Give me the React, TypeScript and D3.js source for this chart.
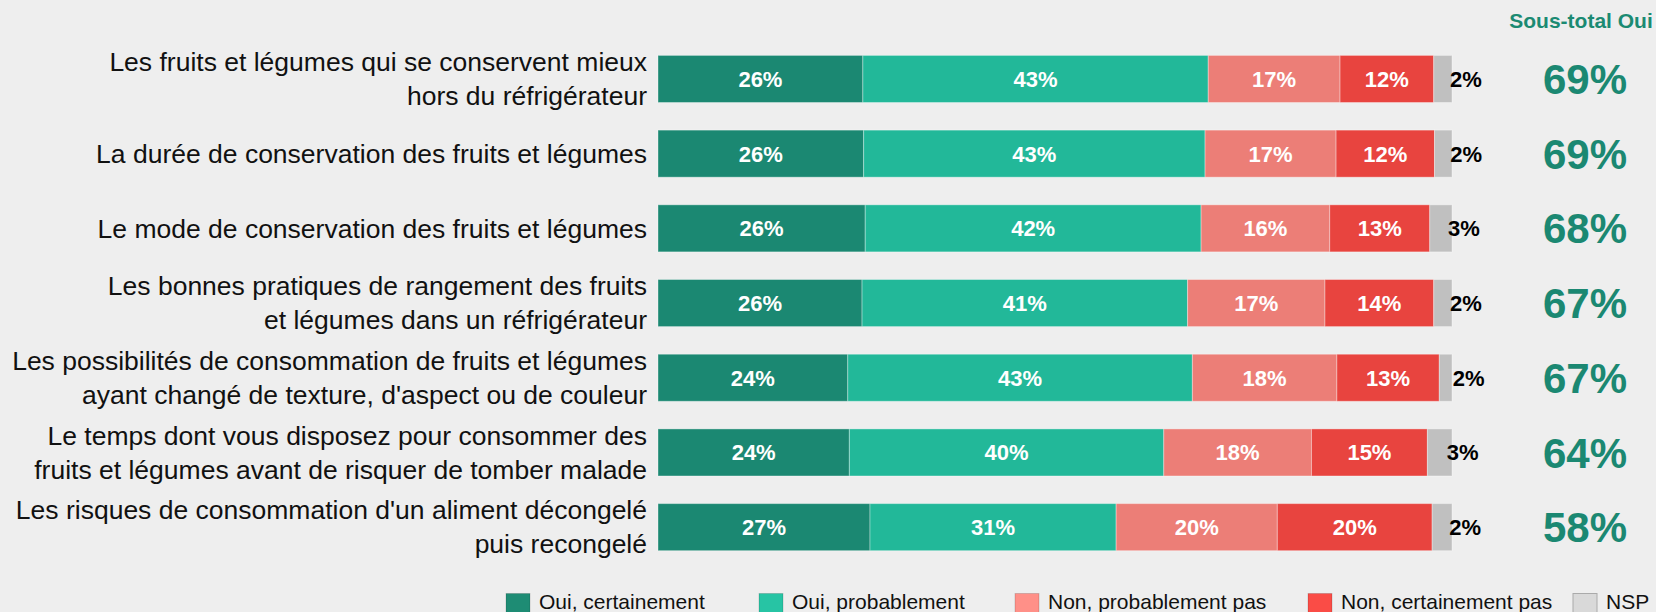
import { scaleBand, scaleLinear } from "d3";

const W = 1656;
const H = 612;

const categories = [
  ["Les fruits et légumes qui se conservent mieux", "hors du réfrigérateur"],
  ["La durée de conservation des fruits et légumes"],
  ["Le mode de conservation des fruits et légumes"],
  ["Les bonnes pratiques de rangement des fruits", "et légumes dans un réfrigérateur"],
  ["Les possibilités de consommation de fruits et légumes", "ayant changé de texture, d'aspect ou de couleur"],
  ["Le temps dont vous disposez pour consommer des", "fruits et légumes avant de risquer de tomber malade"],
  ["Les risques de consommation d'un aliment décongelé", "puis recongelé"],
];

const seriesNames = ["Oui, certainement", "Oui, probablement", "Non, probablement pas", "Non, certainement pas", "NSP"];

// bar widths and the labels printed on them
const ouiCertainement = [25.8, 25.9, 26.1, 25.7, 23.9, 24.1, 26.7];
const ouiProbablement = [43.5, 43.0, 42.3, 41.0, 43.4, 39.6, 31.0];
const nonProbablement = [16.6, 16.5, 16.2, 17.3, 18.2, 18.6, 20.3];
const nonCertainement = [11.8, 12.4, 12.6, 13.7, 12.9, 14.6, 19.5];
const nsp = [2.3, 2.2, 2.8, 2.3, 1.6, 3.1, 2.5];

const labelsOuiCert = ["26%", "26%", "26%", "26%", "24%", "24%", "27%"];
const labelsOuiProb = ["43%", "43%", "42%", "41%", "43%", "40%", "31%"];
const labelsNonProb = ["17%", "17%", "16%", "17%", "18%", "18%", "20%"];
const labelsNonCert = ["12%", "12%", "13%", "14%", "13%", "15%", "20%"];
const labelsNsp = ["2%", "2%", "3%", "2%", "2%", "3%", "2%"];

const sousTotal = ["69%", "69%", "68%", "67%", "67%", "64%", "58%"];

const barColors = ["#1b8872", "#22b899", "#ec7e77", "#e8443f", "#c0c0c0"];
const legendColors = ["#1e8c74", "#27c4a4", "#ff9088", "#fa4c46", "#d9d9d9"];
const legendX = [506, 759, 1015, 1308, 1573];

const FONT = "'Liberation Sans', Arial, sans-serif";

export default function App() {
  const series = [ouiCertainement, ouiProbablement, nonProbablement, nonCertainement, nsp];
  const labels = [labelsOuiCert, labelsOuiProb, labelsNonProb, labelsNonCert, labelsNsp];

  const x = scaleLinear().domain([0, 100]).range([658, 1452]);
  const y = scaleBand<number>()
    .domain(categories.map((_, i) => i))
    .range([41.6, 564.5])
    .paddingInner(0.37)
    .paddingOuter(0.185);
  const bw = y.bandwidth();

  return (
    <svg
      width={W}
      height={H}
      style={{ position: "absolute", left: 0, top: 0, fontFamily: FONT }}
    >
      <rect width={W} height={H} fill="#eeeeee" />

      <text x={1581} y={28} textAnchor="middle" fontSize={21} fontWeight="bold" fill="#1b8a72">
        Sous-total Oui
      </text>

      {categories.map((lines, i) => {
        const cy = (y(i) as number) + bw / 2;
        let acc = 0;
        const segs = series.map((s, k) => {
          const x0 = x(acc);
          acc += s[i];
          const x1 = x(acc);
          return { k, x0, x1 };
        });
        return (
          <g key={i}>
            {lines.map((line, j) => (
              <text
                key={j}
                x={647}
                y={cy + (lines.length === 1 ? 0 : j === 0 ? -17 : 17)}
                dy="0.35em"
                textAnchor="end"
                fontSize={26.5}
                fill="#111"
              >
                {line}
              </text>
            ))}
            {segs.map(({ k, x0, x1 }) => (
              <rect
                key={k}
                x={x0}
                y={y(i)}
                width={x1 - x0}
                height={bw}
                fill={barColors[k]}
                stroke="rgba(255,255,255,0.35)"
                strokeWidth={1}
              />
            ))}
            {segs.map(({ k, x0, x1 }) =>
              k < 4 ? (
                <text
                  key={"l" + k}
                  x={(x0 + x1) / 2}
                  y={cy}
                  dy="0.36em"
                  textAnchor="middle"
                  fontSize={22}
                  fontWeight="bold"
                  fill="#fff"
                >
                  {labels[k][i]}
                </text>
              ) : (
                <text
                  key={"l" + k}
                  x={(x0 + x1) / 2 + 23}
                  y={cy}
                  dy="0.36em"
                  textAnchor="middle"
                  fontSize={22}
                  fontWeight="bold"
                  fill="#000"
                >
                  {labels[k][i]}
                </text>
              )
            )}
            <text
              x={1585}
              y={cy}
              dy="0.36em"
              textAnchor="middle"
              fontSize={42}
              fontWeight="bold"
              fill="#1b8872"
            >
              {sousTotal[i]}
            </text>
          </g>
        );
      })}

      {seriesNames.map((name, k) => (
        <g key={name}>
          <rect
            x={legendX[k]}
            y={593.5}
            width={24}
            height={26}
            fill={legendColors[k]}
            stroke={k === 4 ? "#aaa" : "rgba(0,0,0,0.15)"}
            strokeWidth={1}
          />
          <text x={legendX[k] + 33} y={609} fontSize={21} fill="#111">
            {name}
          </text>
        </g>
      ))}
    </svg>
  );
}
